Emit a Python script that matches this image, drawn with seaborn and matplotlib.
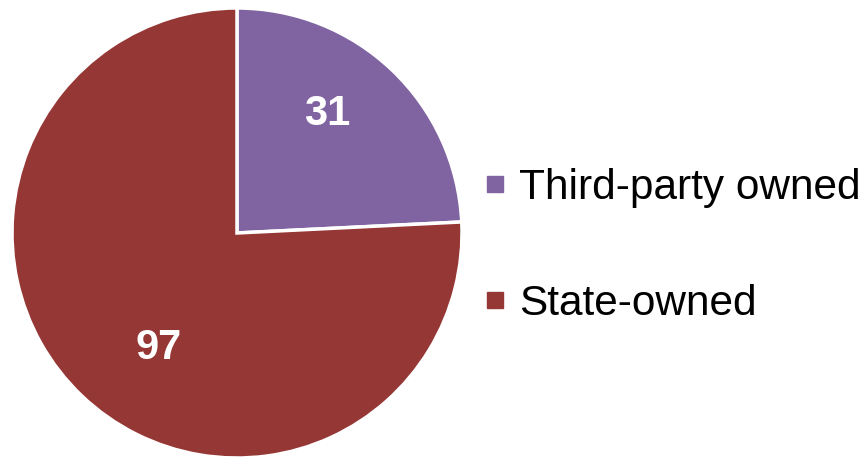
import numpy as np
import matplotlib
matplotlib.use("Agg")
import matplotlib.pyplot as plt
from matplotlib.lines import Line2D
import seaborn as sns

categories = ["Third-party owned", "State-owned"]
values = [31, 97]
colors = ["#8064A2", "#953735"]

sns.set_style("white")
plt.rcParams['font.family'] = ['Liberation Sans', 'DejaVu Sans']
plt.rcParams['text.color'] = 'black'

W, H = 866, 457
fig = plt.figure(figsize=(W / 100, H / 100), dpi=100)
# pie centred at (237, 233) px, radius ~225 px
cx, cy, r = 237, 233, 225
ax = fig.add_axes([(cx - r) / W, (H - cy - r) / H, 2 * r / W, 2 * r / H])
wedges, _ = ax.pie(values, colors=colors, startangle=90, counterclock=False,
                   wedgeprops=dict(edgecolor="white", linewidth=2.5),
                   radius=1.0)
ax.set_xlim(-1, 1)
ax.set_ylim(-1, 1)
ax.set_aspect("equal")
ax.axis("off")

# value labels
label_pos = [(0.40, 0.53), (-0.35, -0.51)]
for v, (x, y) in zip(values, label_pos):
    ax.text(x, y, str(v), color="white", fontsize=30, fontweight="bold",
            ha="center", va="center")

handles = [Line2D([0], [0], marker="s", linestyle="none", markersize=12,
                  markerfacecolor=c, markeredgecolor=c) for c in colors]
fig.legend(handles, categories, loc="center left",
           bbox_to_anchor=(483 / W, 1 - 246 / H), frameon=False,
           fontsize=30.5, handlelength=0.55, handletextpad=0.3,
           labelspacing=1.8, borderpad=0, borderaxespad=0,
           labelcolor="black")

fig.savefig("out.png", dpi=100)
